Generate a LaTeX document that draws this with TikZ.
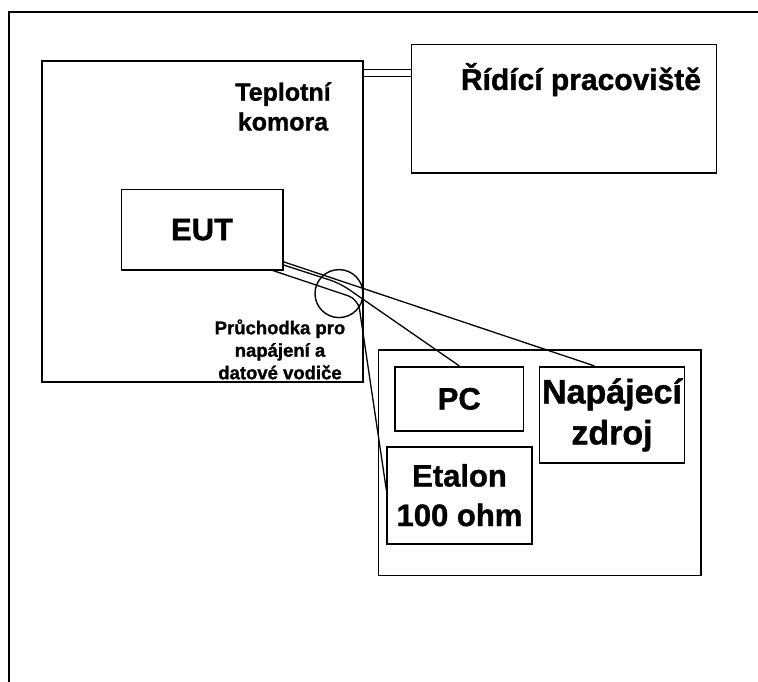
\documentclass[tikz,border=0pt]{standalone}
\usepackage{fontspec}
\setmainfont{Liberation Sans}[BoldFeatures={FakeBold=1.2}]
\usetikzlibrary{calc}

\begin{document}
\begin{tikzpicture}[x=1pt,y=-1pt,
box/.style={draw,line width=1.6pt,rectangle,inner sep=0pt,align=center,font=\bfseries\fontsize{31}{39.5}\selectfont},
lbl/.style={align=center,inner sep=0pt},
wire/.style={line width=1.3pt,rounded corners=10pt}]

\useasboundingbox (0,0) rectangle (758,682);
\draw[line width=1.6pt] (9,690) |- (770,12.3);

% chamber with the device inside, control room beside it
\node[box, minimum width=321.3, minimum height=321] (komora) at (202.35,221.5) {};
\node[box, minimum width=305, minimum height=128.7] (ridici) at (563.9,108.75) {};
\node[box, minimum width=161.5, minimum height=80.1] (eut) at (202.05,229.65) {EUT};
\node[lbl, font=\bfseries\fontsize{25}{29.7}\selectfont] (komoraT) at (283,106.5) {Teplotní\\komora};
\node[lbl, anchor=base, font=\bfseries\fontsize{30}{36}\selectfont] (ridiciT) at (581,90) {Řídící pracoviště};
\draw[line width=1.5pt, double, double distance=5.5pt] (komora.north east |- 0,73) -- (ridici.west |- 0,73);

% measuring table
\node[box, minimum width=322.5, minimum height=225.3] (stul) at (539.75,462.85) {};
\node[box, minimum width=128.5, minimum height=64.3] (pc) at (459.25,398.85) {PC};
\node[box, minimum width=145, minimum height=96.5, font=\bfseries\fontsize{34}{41}\selectfont] (zdroj) at (612,414.95) {Napájecí\\zdroj};
\node[box, minimum width=144.6, minimum height=97] (etalon) at (459.5,495.2) {Etalon\\100 ohm};

% feedthrough in the chamber wall
\node[draw, circle, line width=1.4pt, minimum size=48, inner sep=0pt] (pruchodka) at (339,293.6) {};
\node[lbl, font=\bfseries\fontsize{18.5}{22.5}\selectfont] (pruchodkaT) at (280,349.4) {Průchodka pro\\napájení a\\datové vodiče};

\coordinate (a) at ($(eut.south east)+(0,-8.7)$);
\coordinate (b) at ($(eut.south east)+(0,-5.5)$);
\coordinate (c) at ($(eut.south east)+(-10.8,0)$);
\draw[wire] (a) -- ($(zdroj.north west)!0.38!(zdroj.north east)$);
\draw[wire] (b) -- ($(pruchodka.center)+(1,-10.3)$) -- (pc.north);
\draw[wire] (c) -- ($(pruchodka.center)+(19,5.5)$) -- ($(etalon.north west)!0.45!(etalon.south west)$);
\end{tikzpicture}
\end{document}
